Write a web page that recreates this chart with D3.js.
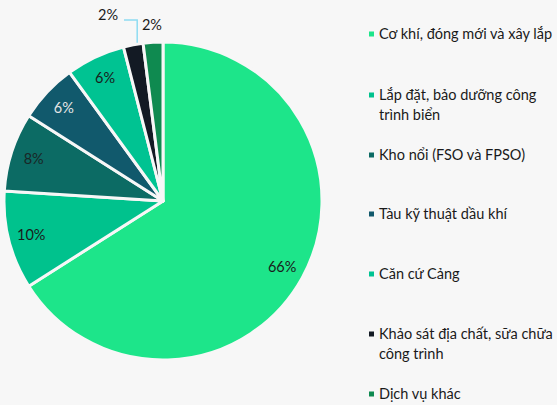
<!DOCTYPE html>
<html><head><meta charset="utf-8">
<script src="https://cdn.jsdelivr.net/npm/d3@7"></script>
<style>
html,body{margin:0;padding:0;background:#f7f7f7;}
svg{display:block;font-family:Lato,"Open Sans",sans-serif;}
</style></head><body>
<svg id="c" width="557" height="405"></svg>
<script>
const categories = ["Cơ khí, đóng mới và xây lắp","Lắp đặt, bảo dưỡng công trình biển","Kho nổi (FSO và FPSO)","Tàu kỹ thuật dầu khí","Căn cứ Cảng","Khảo sát địa chất, sữa chữa công trình","Dịch vụ khác"];
const legendLines = [["Cơ khí, đóng mới và xây lắp"],["Lắp đặt, bảo dưỡng công","trình biển"],["Kho nổi (FSO và FPSO)"],["Tàu kỹ thuật dầu khí"],["Căn cứ Cảng"],["Khảo sát địa chất, sữa chữa","công trình"],["Dịch vụ khác"]];
const values = [66,10,8,6,6,2,2];
const colors = ["#1de58a","#00c28d","#0c6b64","#11596c","#00c392","#131a24","#0f8a50"];
const labelColors = ["#1a1a1a","#1a1a1a","#1a2626","#e6e6e6","#1a1a1a","#1a1a1a","#1a1a1a"];

const svg = d3.select("#c");
const cx = 163, cy = 201, R = 159;
const g = svg.append("g").attr("transform",`translate(${cx},${cy})`);
const pie = d3.pie().sort(null).value(d=>d);
const arcs = pie(values);
const arc = d3.arc().innerRadius(0).outerRadius(R);
g.selectAll("path").data(arcs).join("path")
  .attr("d",arc).attr("fill",(d,i)=>colors[i])
  .attr("stroke","#f7f7f7").attr("stroke-width",3).attr("stroke-linejoin","round");

const pt = (a,r)=>[Math.sin(a)*r,-Math.cos(a)*r];
arcs.forEach((d,i)=>{
  const mid=(d.startAngle+d.endAngle)/2;
  let p, anchor="middle";
  if(values[i]>=5){ p=pt(mid,136); }
  else if(i===6){ p=pt(mid,176); }
  else {
    const o=pt(mid,R);
    const ox=o[0]+4;
    g.append("path").attr("d",`M${ox},${o[1]-2}V${-181}H${-39}`)
      .attr("fill","none").attr("stroke","#8fdcf2").attr("stroke-width",1.5);
    p=[-55,-186];
  }
  g.append("text").attr("x",p[0]).attr("y",p[1]).attr("dy","0.35em")
    .attr("text-anchor",anchor).attr("font-size",14.5).attr("fill",labelColors[i]).text(values[i]+"%");
});

const legY=[34,95,155,214,274,334,394];
const lg=svg.append("g");
legendLines.forEach((lines,i)=>{
  lg.append("rect").attr("x",369).attr("y",legY[i]-2.5).attr("width",5).attr("height",5).attr("fill",colors[i]);
  lines.forEach((t,j)=>{
    lg.append("text").attr("x",379).attr("y",legY[i]+j*20).attr("dy","0.35em")
      .attr("font-size",14.5).attr("fill","#1a1a1a").text(t);
  });
});
</script></body></html>
